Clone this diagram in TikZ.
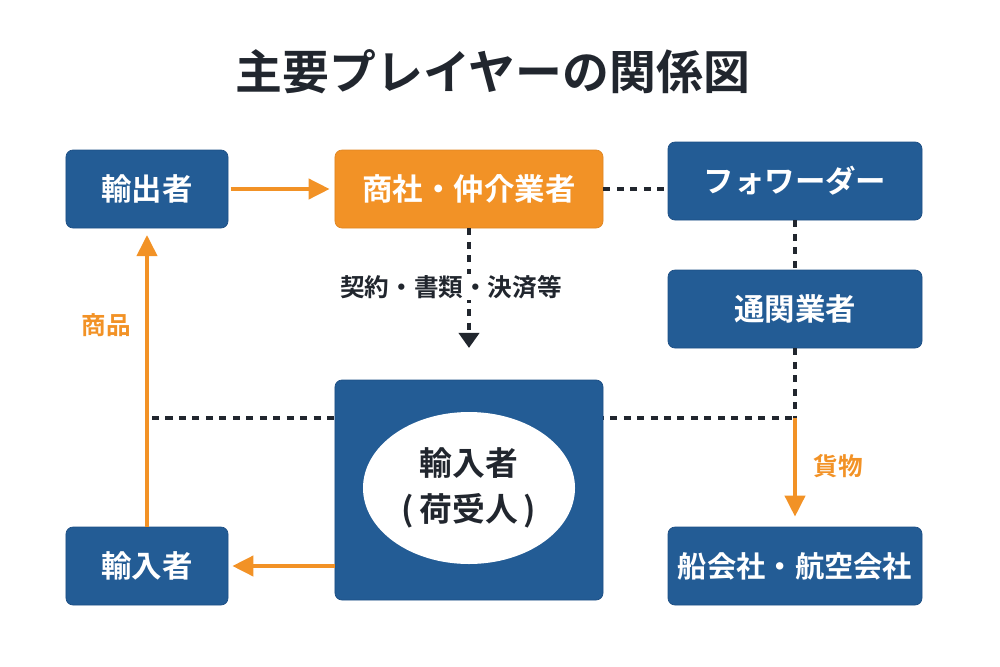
\documentclass[tikz,border=0pt]{standalone}
\usepackage{fontspec}
\setmainfont{Noto Sans CJK JP}[BoldFont={Noto Sans CJK JP Bold}]
\usetikzlibrary{shapes.geometric,arrows.meta}

\definecolor{boxblue}{RGB}{35,92,149}
\definecolor{boxedge}{RGB}{28,78,132}
\definecolor{tradeorange}{RGB}{242,146,38}
\definecolor{inkdark}{RGB}{33,38,46}

\begin{document}
\begin{tikzpicture}[x=0.03cm,y=-0.03cm,
    player/.style={draw=boxedge,line width=0.6pt,fill=boxblue,rounded corners=6pt,
        text=white,font=\fontsize{26}{30}\selectfont\bfseries,
        minimum width=7.62cm,minimum height=2.34cm,inner sep=0pt},
    goods/.style={draw=tradeorange,line width=3.4pt,-{Triangle[length=0.63cm,width=0.6cm]}},
    link/.style={draw=inkdark,line width=3.4pt,dash pattern=on 6pt off 5.5pt},
    tag/.style={font=\fontsize{21}{25}\selectfont\bfseries}]

    \useasboundingbox (0,0) rectangle (1000,666);

    \node[font=\fontsize{40}{48}\selectfont\bfseries,text=inkdark] (title) at (493,72) {主要プレイヤーの関係図};

    \node[player,minimum width=4.86cm] (exporter) at (147,189) {輸出者};
    \node[player,fill=tradeorange,draw=tradeorange!92!black,minimum width=8.04cm] (trader) at (469,189) {商社・仲介業者};
    \node[player] (forwarder) at (795,181) {フォワーダー};
    \node[player] (broker) at (795,309) {通関業者};
    \node[player,font=\fontsize{25}{30}\selectfont\bfseries] (carrier) at (795,566) {船会社・航空会社};
    \node[player,minimum width=4.86cm] (buyer) at (147,566) {輸入者};

    \coordinate (hub) at (795,418);
    \coordinate (tail) at (152,418);

    % dashed lines go under the big box
    \draw[link] (trader.east) -- (forwarder.west |- trader.east);
    \draw[link] (forwarder.south) -- (broker.north);
    \draw[link] (broker.south) -- (hub);
    \draw[link] (tail) -- (hub);

    \node[player,minimum width=8.04cm,minimum height=6.6cm] (importer) at (469,490) {};
    \node[ellipse,fill=white,minimum width=6.36cm,minimum height=4.56cm,inner sep=0pt,
        align=center,text=inkdark,font=\fontsize{28}{39}\selectfont\bfseries] (consignee) at (469,488) {輸入者\\(\,荷受人\,)};

    \draw[link,-{Triangle[length=0.45cm,width=0.6cm,fill=inkdark]},shorten >=0.95cm] (trader.south) -- (importer.north);
    \node[tag,fill=white,inner sep=1pt,text=inkdark] (deal) at (451,287) {契約・書類・決済等};

    \draw[goods,shorten <=2pt,shorten >=0.15cm] (exporter.east) -- (trader.west);
    \draw[goods,shorten >=0.2cm] (buyer.north) -- (exporter.south);
    \draw[goods,shorten >=0.12cm] (importer.west |- buyer.east) -- (buyer.east);
    \draw[goods,shorten >=0.3cm] (hub) -- (carrier.north);

    \node[tag,text=tradeorange] (goodslabel) at (106,325) {商品};
    \node[tag,text=tradeorange] (cargolabel) at (838,466) {貨物};

\end{tikzpicture}
\end{document}
